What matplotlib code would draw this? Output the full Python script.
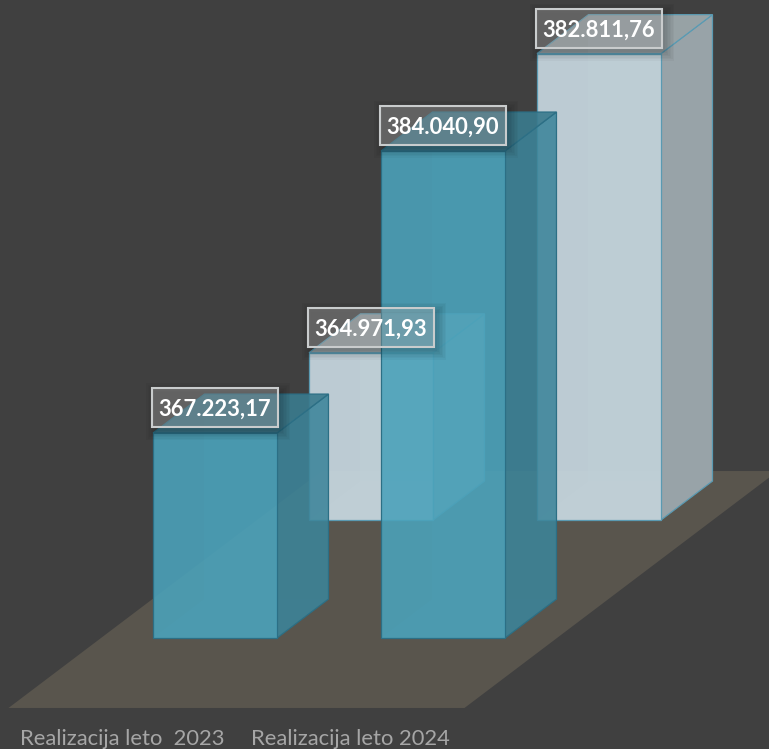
import matplotlib
matplotlib.use('Agg')
import matplotlib.pyplot as plt
from matplotlib.colors import to_rgba
from matplotlib.patches import Polygon, Rectangle

categories = ['Realizacija leto  2023', 'Realizacija leto 2024']
values_front = [367223.17, 384040.90]
values_back = [364971.93, 382811.76]

BASE = 355000
PX_PER_UNIT = 0.01677
CAT_PX = 228
BAR_W = 124 / CAT_PX
DEPTH_DX = 156 / CAT_PX
DEPTH_DY = 118 / PX_PER_UNIT
BAR_DEPTH = 0.33
FLOOR_Z = -0.593
FLOOR_BACK = 1.415


def project(x, z, v):
    return x + z * DEPTH_DX, v + z * DEPTH_DY


def face(ax, pts, color, alpha, edge=None, lw=0.9):
    xy = [project(*p) for p in pts]
    ax.add_patch(Polygon(xy, closed=True, facecolor=to_rgba(color, alpha),
                         edgecolor=edge if edge else 'none', linewidth=lw if edge else 0))


def draw_bar(ax, x, z, v, st):
    l, r = x - BAR_W / 2, x + BAR_W / 2
    z2 = z + BAR_DEPTH
    # inner faces first, they only show through a little
    face(ax, [(l, z, BASE), (r, z, BASE), (r, z2, BASE), (l, z2, BASE)], st['inner'], 0.2)
    face(ax, [(l, z2, BASE), (r, z2, BASE), (r, z2, v), (l, z2, v)], st['inner'], 0.15)
    face(ax, [(r, z, BASE), (r, z2, BASE), (r, z2, v), (r, z, v)], st['side'], st['side_a'], st['edge'])
    face(ax, [(l, z, v), (r, z, v), (r, z2, v), (l, z2, v)], st['top'], st['top_a'], st['edge'])
    face(ax, [(l, z, BASE), (r, z, BASE), (r, z, v), (l, z, v)], st['front'], st['front_a'], st['edge'])


def label_box(ax, cx, cy, w_px, h_px, **kw):
    w, h = w_px / CAT_PX, h_px / PX_PER_UNIT
    ax.add_patch(Rectangle((cx - w / 2, cy - h / 2), w, h, **kw))


def bar_label(ax, x, z, v):
    text = f'{v:,.2f}'.replace(',', 'X').replace('.', ',').replace('X', '.')
    px, py = project(x, z, v)
    cy = py + 25.5 / PX_PER_UNIT
    # soft shadow behind the box
    for grow in [18, 15, 12, 9, 6, 3, 0]:
        label_box(ax, px + 3 / CAT_PX, cy - 4 / PX_PER_UNIT, 126 + grow, 39 + grow,
                  facecolor=(0, 0, 0, 0.03), edgecolor='none', zorder=15)
    label_box(ax, px, cy, 126, 39, facecolor=(1, 1, 1, 0.24), edgecolor='#c9cccd', linewidth=1.5, zorder=19)
    ax.text(px, cy, text, ha='center', va='center_baseline', color='white', fontsize=15.8, fontweight='bold',
            family='Lato', zorder=20)


blue = dict(front='#4ba2ba', front_a=0.89, side='#3c8499', side_a=0.85, top='#3a7a8d', top_a=0.9,
            inner='#4a9db6', edge='#2c6f85')
pale = dict(front='#c4d4dc', front_a=0.95, side='#9aa5aa', side_a=0.98, top='#a4b0b4', top_a=0.85,
            inner='#c0d0d8', edge='#5a9ab2')

fig = plt.figure(figsize=(7.69, 7.49), dpi=100, facecolor='#404040')
ax = fig.add_axes([0, 0, 1, 1])
ax.set_facecolor('#404040')
ax.set_xlim(-215 / CAT_PX, (769 - 215) / CAT_PX)
ax.set_ylim(BASE - 111 / PX_PER_UNIT, BASE + 638 / PX_PER_UNIT)
ax.axis('off')

# floor, spans both categories and both series
floor_l = -0.5
floor_r = 1.5
cat_x = list(range(len(categories)))
face(ax, [(floor_l, FLOOR_Z, BASE), (floor_r, FLOOR_Z, BASE), (floor_r, FLOOR_BACK, BASE), (floor_l, FLOOR_BACK, BASE)],
     '#59554d', 1)

for x, v in zip(cat_x, values_back):
    draw_bar(ax, x, 1, v, pale)
for x, v in zip(cat_x, values_front):
    draw_bar(ax, x, 0, v, blue)

for x, v in zip(cat_x, values_front):
    bar_label(ax, x, 0, v)
for x, v in zip(cat_x, values_back):
    bar_label(ax, x, 1, v)

for x, name in zip(cat_x, categories):
    px, _ = project(x, FLOOR_Z, BASE)
    ax.text(px, BASE - 101 / PX_PER_UNIT, name, ha='center', va='center', color='#a6a6a6', fontsize=15.8, family='Lato')

fig.savefig('out.png', dpi=100, facecolor=fig.get_facecolor())
